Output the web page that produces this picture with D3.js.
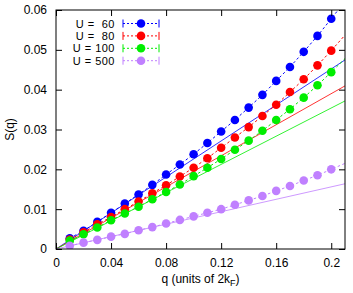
<!DOCTYPE html>
<html>
<head>
<meta charset="utf-8">
<script src="https://cdn.jsdelivr.net/npm/d3@7"></script>
<style>
  body { margin: 0; background: #fff; }
  text { font-family: "Liberation Sans", Arial, sans-serif; }
</style>
</head>
<body>
<div id="chart"></div>
<script>
// q values (units of 2kF); last one sits on the right border, only the line reaches it
var qs = [0.01, 0.02, 0.03, 0.04, 0.05, 0.06, 0.07, 0.08, 0.09, 0.10,
          0.11, 0.12, 0.13, 0.14, 0.15, 0.16, 0.17, 0.18, 0.19, 0.20, 0.21]

var labels = ["U =  60", "U =  80", "U = 100", "U = 500"]
var colors = ["#0000ff", "#ff0000", "#00ee00", "#c080ff"]

var s60  = [0.0027, 0.0046, 0.0068, 0.0091, 0.0114, 0.0137, 0.0161, 0.0187, 0.0212, 0.0238,
            0.0266, 0.0295, 0.0324, 0.0355, 0.0387, 0.0422, 0.0457, 0.0495, 0.0535, 0.0578, 0.0622]
var s80  = [0.0024, 0.0042, 0.0062, 0.0080, 0.0100, 0.0119, 0.0140, 0.0160, 0.0182, 0.0204,
            0.0228, 0.0254, 0.0280, 0.0306, 0.0334, 0.0362, 0.0394, 0.0426, 0.0461, 0.0498, 0.0537]
var s100 = [0.0021, 0.0037, 0.0054, 0.0072, 0.0089, 0.0106, 0.0125, 0.0143, 0.0162, 0.0183,
            0.0204, 0.0226, 0.0249, 0.0272, 0.0297, 0.0324, 0.0351, 0.0380, 0.0411, 0.0444, 0.0478]
var s500 = [0.0008, 0.0016, 0.0023, 0.0031, 0.0038, 0.0047, 0.0055, 0.0064, 0.0073, 0.0082,
            0.0091, 0.0100, 0.0111, 0.0122, 0.0133, 0.0146, 0.0158, 0.0172, 0.0185, 0.0200, 0.0215]

// small-q linear slopes (solid lines through the origin)
var slopes = [0.226, 0.195, 0.177, 0.078]

var xTicks = [0, 0.04, 0.08, 0.12, 0.16, 0.2]
var yTicks = [0, 0.01, 0.02, 0.03, 0.04, 0.05, 0.06]

var series = [s60, s80, s100, s500]

var width = 353,
    height = 293
var margin = { top: 10, right: 8, bottom: 44, left: 56 }
var w = width - margin.left - margin.right,
    h = height - margin.top - margin.bottom

var svg = d3.select("#chart")
    .append("svg")
    .attr("width", width)
    .attr("height", height)

var g = svg.append("g")
    .attr("transform", "translate(" + margin.left + "," + margin.top + ")")

var x = d3.scaleLinear().domain([0, 0.21]).range([0, w])
var y = d3.scaleLinear().domain([0, 0.06]).range([h, 0])

g.append("clipPath").attr("id", "clip")
    .append("rect").attr("width", w).attr("height", h)

var plot = g.append("g").attr("clip-path", "url(#clip)")

var line = d3.line()
    .x(function (d) { return x(d[0]); })
    .y(function (d) { return y(d[1]); })

series.forEach(function (vals, i) {
    var pts = qs.map(function (q, j) { return [q, vals[j]]; })

    // dashed line through the data
    plot.append("path")
        .attr("d", line(pts))
        .attr("fill", "none")
        .attr("stroke", colors[i])
        .attr("stroke-width", 1)
        .attr("stroke-dasharray", "2.5,2.5")

    // points (not the one on the border)
    plot.selectAll(null)
        .data(pts.filter(function (d) { return d[0] < x.domain()[1]; }))
        .enter()
        .append("circle")
        .attr("cx", function (d) { return x(d[0]); })
        .attr("cy", function (d) { return y(d[1]); })
        .attr("r", 4.3)
        .attr("fill", colors[i])

    // linear small-q line
    plot.append("path")
        .attr("d", line(x.domain().map(function (q) { return [q, slopes[i] * q]; })))
        .attr("fill", "none")
        .attr("stroke", colors[i])
        .attr("stroke-width", 1)
        .attr("opacity", 0.8)
})

// axes, ticks inward on all four sides
g.append("g")
    .attr("transform", "translate(0," + h + ")")
    .call(d3.axisBottom(x).tickValues(xTicks).tickSize(-6).tickPadding(9).tickFormat(d3.format("~g")))
g.append("g")
    .call(d3.axisTop(x).tickValues(xTicks).tickSize(-6).tickFormat(""))
g.append("g")
    .call(d3.axisLeft(y).tickValues(yTicks).tickSize(-6).tickPadding(9).tickFormat(d3.format("~g")))
g.append("g")
    .attr("transform", "translate(" + w + ",0)")
    .call(d3.axisRight(y).tickValues(yTicks).tickSize(-6).tickFormat(""))

g.selectAll(".domain").remove()
g.selectAll(".tick line").attr("stroke", "#000")
g.selectAll(".tick text")
    .style("font-size", "12px")
    .style("font-family", "'Liberation Sans', Arial, sans-serif")
    .attr("fill", "#000")

g.append("rect")
    .attr("width", w)
    .attr("height", h)
    .attr("fill", "none")
    .attr("stroke", "#000")
    .attr("stroke-width", 1)

// axis titles
var xt = svg.append("text")
    .attr("x", margin.left + w / 2)
    .attr("y", 283)
    .attr("text-anchor", "middle")
    .style("font-size", "12px")
xt.append("tspan").text("q (units of 2k")
xt.append("tspan").attr("dy", 3).style("font-size", "9px").text("F")
xt.append("tspan").attr("dy", -3).text(")")

svg.append("text")
    .attr("transform", "translate(14," + (margin.top + h / 2) + ")rotate(-90)")
    .attr("text-anchor", "middle")
    .style("font-size", "12px")
    .text("S(q)")

// legend
var legend = svg.append("g")
labels.forEach(function (lab, i) {
    var ly = 23.5 + i * 12.4
    legend.append("text")
        .attr("x", 115)
        .attr("y", ly + 4)
        .attr("text-anchor", "end")
        .style("font-size", "11px")
        .style("letter-spacing", "0.5px")
        .style("white-space", "pre")
        .text(lab)
    legend.append("line")
        .attr("x1", 123).attr("x2", 159)
        .attr("y1", ly).attr("y2", ly)
        .attr("stroke", colors[i])
        .attr("stroke-dasharray", "2,2")
    ;[123, 159].forEach(function (bx) {
        legend.append("line")
            .attr("x1", bx).attr("x2", bx)
            .attr("y1", ly - 4).attr("y2", ly + 4)
            .attr("stroke", colors[i])
    })
    legend.append("circle")
        .attr("cx", 141)
        .attr("cy", ly)
        .attr("r", 4.3)
        .attr("fill", colors[i])
})
</script>
</body>
</html>
